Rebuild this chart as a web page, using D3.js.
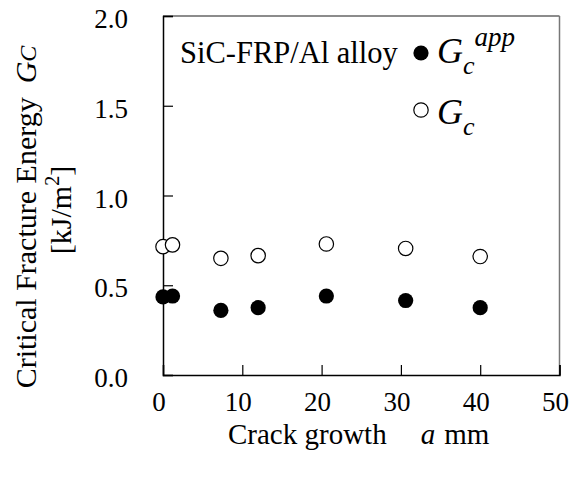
<!DOCTYPE html>
<html>
<head>
<meta charset="utf-8">
<script src="https://cdn.jsdelivr.net/npm/d3@7"></script>
<style>
  body { margin: 0; background: #fff; }
  svg { display: block; font-family: "Liberation Serif", "Times New Roman", serif; }
</style>
</head>
<body>
<svg id="chart" width="582" height="480"></svg>
<script>
// data
const crackGrowth = [0.0, 1.2, 7.3, 12.0, 20.6, 30.6, 40.0];
const gcApp = [0.435, 0.44, 0.36, 0.375, 0.44, 0.415, 0.375];
const gc = [0.715, 0.725, 0.65, 0.665, 0.73, 0.705, 0.66];
const xTicks = [0, 10, 20, 30, 40, 50];
const yTicks = [0.0, 0.5, 1.0, 1.5, 2.0];

const svg = d3.select("#chart");

const x = d3.scaleLinear().domain([0, 50]).range([163, 559.5]);
const y = d3.scaleLinear().domain([0, 2]).range([375, 16]);

// frame: top and right gray, left and bottom black
svg.append("line").attr("x1", x(0)).attr("x2", x(50)).attr("y1", y(2)).attr("y2", y(2))
  .attr("stroke", "#666").attr("stroke-width", 1.5);
svg.append("line").attr("x1", x(50)).attr("x2", x(50)).attr("y1", y(2)).attr("y2", y(0))
  .attr("stroke", "#777").attr("stroke-width", 1.5);

// y axis, ticks pointing inward
const yAxis = svg.append("g")
  .attr("transform", `translate(${x(0)},0)`)
  .call(d3.axisRight(y).tickValues(yTicks).tickSize(10).tickFormat(""));
yAxis.select(".domain").attr("stroke", "#000").attr("stroke-width", 1.5);
yAxis.selectAll(".tick line").attr("stroke", "#000").attr("stroke-width", 1.2);

svg.append("g").selectAll("text")
  .data(yTicks)
  .enter()
  .append("text")
  .attr("x", 128)
  .attr("y", d => y(d) + 12)
  .attr("text-anchor", "end")
  .attr("font-size", 27)
  .text(d => d3.format(".1f")(d));

// x axis, ticks pointing up
const xAxis = svg.append("g")
  .attr("transform", `translate(0,${y(0)})`)
  .call(d3.axisTop(x).tickValues(xTicks).tickSize(10).tickFormat(""));
xAxis.select(".domain").attr("stroke", "#000").attr("stroke-width", 1.5);
xAxis.selectAll(".tick line").attr("stroke", "#000").attr("stroke-width", 1.2);

svg.append("g").selectAll("text")
  .data(xTicks)
  .enter()
  .append("text")
  .attr("x", d => x(d) - 4)
  .attr("y", 411)
  .attr("text-anchor", "middle")
  .attr("font-size", 27)
  .text(d => d);

// axis titles
const xTitle = svg.append("text")
  .attr("x", 228).attr("y", 444)
  .attr("font-size", 29);
xTitle.append("tspan").text("Crack growth");
xTitle.append("tspan").attr("dx", 34).attr("font-style", "italic").text("a");
xTitle.append("tspan").attr("dx", 9).text("mm");

const yTitle1 = svg.append("text")
  .attr("transform", "translate(36,217) rotate(-90)")
  .attr("text-anchor", "middle")
  .attr("font-size", 30);
yTitle1.append("tspan").text("Critical Fracture Energy");
yTitle1.append("tspan").attr("dx", 14).attr("font-style", "italic").text("G");
yTitle1.append("tspan").attr("font-style", "italic").attr("font-size", 24).text("C");

const yTitle2 = svg.append("text")
  .attr("transform", "translate(71,210) rotate(-90)")
  .attr("text-anchor", "middle")
  .attr("font-size", 30);
yTitle2.append("tspan").text("[kJ/m");
yTitle2.append("tspan").attr("font-size", 20).attr("dy", -12).text("2");
yTitle2.append("tspan").attr("dy", 12).text("]");

// points
svg.append("g").selectAll("circle")
  .data(crackGrowth.map((a, i) => ({ a: a, v: gc[i] })))
  .enter()
  .append("circle")
  .attr("cx", d => x(d.a))
  .attr("cy", d => y(d.v))
  .attr("r", 7.2)
  .attr("fill", "#fff")
  .attr("stroke", "#000")
  .attr("stroke-width", 1.2);

svg.append("g").selectAll("circle")
  .data(crackGrowth.map((a, i) => ({ a: a, v: gcApp[i] })))
  .enter()
  .append("circle")
  .attr("cx", d => x(d.a))
  .attr("cy", d => y(d.v))
  .attr("r", 7.6)
  .attr("fill", "#000");

// legend
svg.append("text")
  .attr("x", 180).attr("y", 63)
  .attr("font-size", 30.5)
  .text("SiC-FRP/Al alloy");

svg.append("circle").attr("cx", 421).attr("cy", 53).attr("r", 7.6).attr("fill", "#000");
svg.append("circle").attr("cx", 421).attr("cy", 110).attr("r", 7.2)
  .attr("fill", "#fff").attr("stroke", "#000").attr("stroke-width", 1.2);

const leg1 = svg.append("text").attr("x", 437).attr("y", 63)
  .attr("font-size", 36).attr("font-style", "italic");
leg1.append("tspan").text("G");
leg1.append("tspan").attr("font-size", 26).attr("dy", 11).text("c");
leg1.append("tspan").attr("font-size", 27).attr("dy", -28).attr("dx", 0).text("app");

const leg2 = svg.append("text").attr("x", 437).attr("y", 124)
  .attr("font-size", 36).attr("font-style", "italic");
leg2.append("tspan").text("G");
leg2.append("tspan").attr("font-size", 26).attr("dy", 11).text("c");
</script>
</body>
</html>
